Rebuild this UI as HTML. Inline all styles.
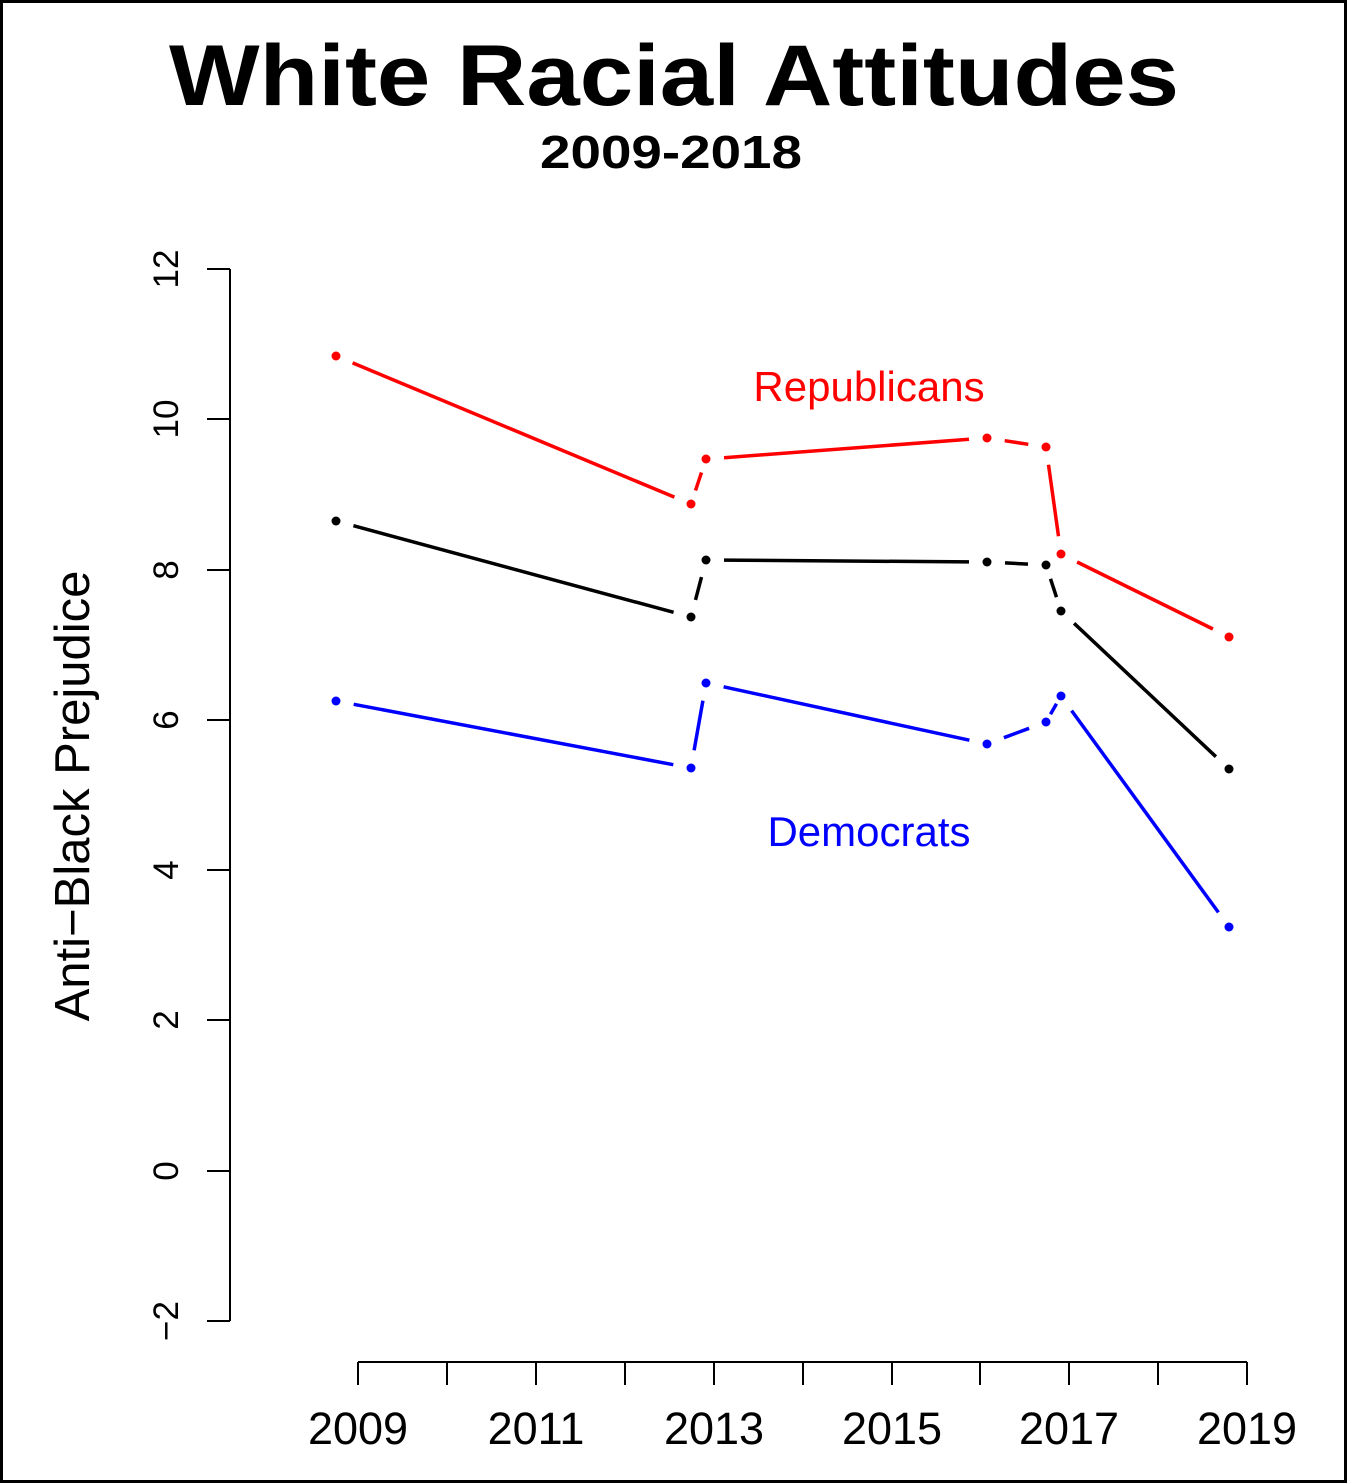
<!DOCTYPE html>
<html><head><style>
html,body{margin:0;padding:0;background:#fff}
svg{display:block}
</style></head><body>
<svg width="1347" height="1483" viewBox="0 0 1347 1483" xmlns="http://www.w3.org/2000/svg" font-family="Liberation Sans, sans-serif">
<rect x="1.5" y="1.5" width="1344" height="1480" fill="#fff" stroke="#000" stroke-width="3"/>
<text x="674" y="105" text-anchor="middle" font-size="86" font-weight="bold" textLength="1010" lengthAdjust="spacingAndGlyphs">White Racial Attitudes</text>
<text x="671" y="168" text-anchor="middle" font-size="46" font-weight="bold" textLength="262" lengthAdjust="spacingAndGlyphs">2009-2018</text>
<g stroke="#000" stroke-width="2" fill="none">
<line x1="230" y1="269" x2="230" y2="1321"/>
<line x1="207" y1="269" x2="230" y2="269"/><line x1="207" y1="419" x2="230" y2="419"/>
<line x1="207" y1="570" x2="230" y2="570"/><line x1="207" y1="720" x2="230" y2="720"/>
<line x1="207" y1="870" x2="230" y2="870"/><line x1="207" y1="1020" x2="230" y2="1020"/>
<line x1="207" y1="1171" x2="230" y2="1171"/><line x1="207" y1="1321" x2="230" y2="1321"/>
<line x1="358" y1="1362" x2="1247" y2="1362"/>
<line x1="358" y1="1362" x2="358" y2="1385"/><line x1="447" y1="1362" x2="447" y2="1385"/>
<line x1="536" y1="1362" x2="536" y2="1385"/><line x1="625" y1="1362" x2="625" y2="1385"/>
<line x1="714" y1="1362" x2="714" y2="1385"/><line x1="803" y1="1362" x2="803" y2="1385"/>
<line x1="892" y1="1362" x2="892" y2="1385"/><line x1="980" y1="1362" x2="980" y2="1385"/>
<line x1="1069" y1="1362" x2="1069" y2="1385"/><line x1="1158" y1="1362" x2="1158" y2="1385"/>
<line x1="1247" y1="1362" x2="1247" y2="1385"/>
</g>
<g font-size="35" text-anchor="middle">
<text transform="translate(178,269) rotate(-90)">12</text>
<text transform="translate(178,419) rotate(-90)">10</text>
<text transform="translate(178,570) rotate(-90)">8</text>
<text transform="translate(178,720) rotate(-90)">6</text>
<text transform="translate(178,870) rotate(-90)">4</text>
<text transform="translate(178,1020) rotate(-90)">2</text>
<text transform="translate(178,1171) rotate(-90)">0</text>
<text transform="translate(178,1321) rotate(-90)">−2</text>
</g>
<g font-size="45" text-anchor="middle">
<text x="358" y="1444">2009</text><text x="536" y="1444">2011</text>
<text x="714" y="1444">2013</text><text x="892" y="1444">2015</text>
<text x="1069" y="1444">2017</text><text x="1247" y="1444">2019</text>
</g>
<text transform="translate(89,796) rotate(-90)" font-size="49" text-anchor="middle">Anti−Black Prejudice</text>
<text x="869" y="401" font-size="42" fill="#ff0000" text-anchor="middle">Republicans</text>
<text x="869" y="846" font-size="42" fill="#0000ff" text-anchor="middle">Democrats</text>
<g stroke="#ff0000" stroke-width="3.5">
<line x1="352.6" y1="362.9" x2="674.4" y2="497.1"/>
<line x1="695.5" y1="490.5" x2="701.5" y2="472.5"/>
<line x1="724" y1="457.7" x2="969" y2="439.3"/>
<line x1="1004.7" y1="440.7" x2="1028.3" y2="444.3"/>
<line x1="1048.5" y1="464.8" x2="1058.5" y2="536.2"/>
<line x1="1077.1" y1="562" x2="1212.9" y2="629"/>
</g>
<g fill="#ff0000">
<circle cx="336" cy="356" r="4.5"/><circle cx="691" cy="504" r="4.5"/><circle cx="706" cy="459" r="4.5"/>
<circle cx="987" cy="438" r="4.5"/><circle cx="1046" cy="447" r="4.5"/><circle cx="1061" cy="554" r="4.5"/><circle cx="1229" cy="637" r="4.5"/>
</g>
<g stroke="#000" stroke-width="3.5">
<line x1="353.4" y1="525.7" x2="673.6" y2="612.3"/>
<line x1="695.5" y1="599.9" x2="701.5" y2="577.1"/>
<line x1="724" y1="560.1" x2="969" y2="561.9"/>
<line x1="1005" y1="562.9" x2="1028" y2="564.1"/>
<line x1="1050.5" y1="578.8" x2="1056.5" y2="597.2"/>
<line x1="1074.1" y1="623.3" x2="1215.9" y2="756.7"/>
</g>
<g fill="#000">
<circle cx="336" cy="521" r="4.5"/><circle cx="691" cy="617" r="4.5"/><circle cx="706" cy="560" r="4.5"/>
<circle cx="987" cy="562" r="4.5"/><circle cx="1046" cy="565" r="4.5"/><circle cx="1061" cy="611" r="4.5"/><circle cx="1229" cy="769" r="4.5"/>
</g>
<g stroke="#0000ff" stroke-width="3.5">
<line x1="353.7" y1="704.3" x2="673.3" y2="764.7"/>
<line x1="694.1" y1="750.3" x2="702.9" y2="700.7"/>
<line x1="723.6" y1="686.8" x2="969.4" y2="740.2"/>
<line x1="1003.9" y1="737.7" x2="1029.1" y2="728.3"/>
<line x1="1050.5" y1="714.2" x2="1056.5" y2="703.8"/>
<line x1="1071.6" y1="710.6" x2="1218.4" y2="912.4"/>
</g>
<g fill="#0000ff">
<circle cx="336" cy="701" r="4.5"/><circle cx="691" cy="768" r="4.5"/><circle cx="706" cy="683" r="4.5"/>
<circle cx="987" cy="744" r="4.5"/><circle cx="1046" cy="722" r="4.5"/><circle cx="1061" cy="696" r="4.5"/><circle cx="1229" cy="927" r="4.5"/>
</g>
</svg>
</body></html>
